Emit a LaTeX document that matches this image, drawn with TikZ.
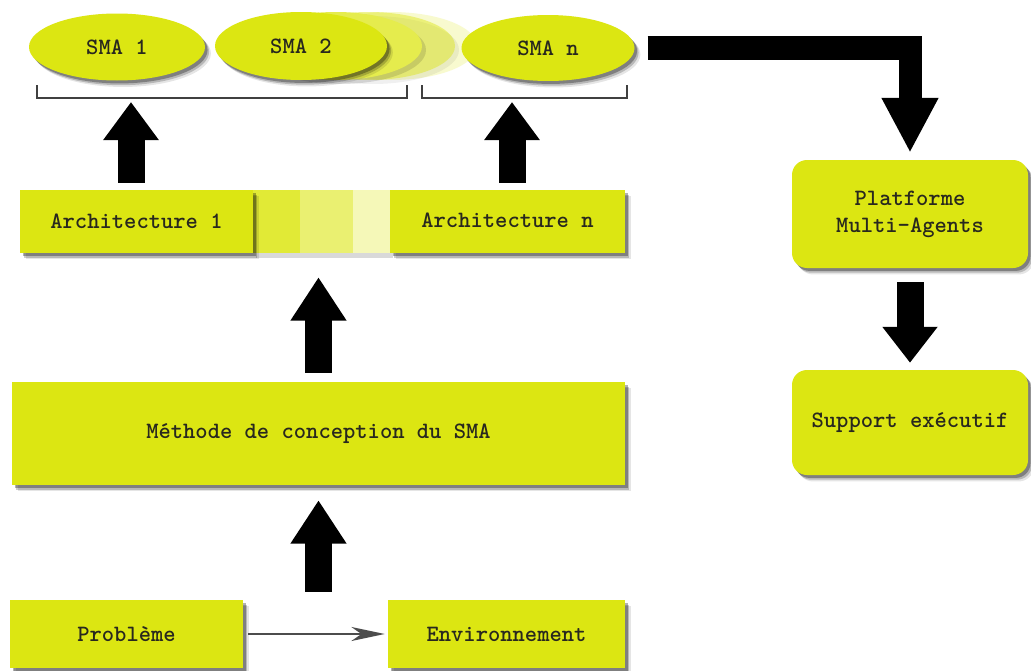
\documentclass[tikz,border=0pt]{standalone}
\usepackage{fontspec}
\usepackage{tikz}
\usetikzlibrary{arrows.meta,shapes.geometric,shadows,positioning,calc}
\usepackage{xcolor}

\definecolor{smayellow}{RGB}{220,230,18}
\definecolor{smatext}{RGB}{40,40,30}
\newdimen\pxu \pxu=0.03cm

\tikzset{
  softshadow/.style={
    general shadow={fill=black,opacity=.10,shadow xshift=5pt,shadow yshift=-5.5pt},
    general shadow={fill=black,opacity=.20,shadow xshift=3.5pt,shadow yshift=-4pt},
    general shadow={fill=black,opacity=.30,shadow xshift=2.2pt,shadow yshift=-2.5pt}},
  smafont/.style={font=\ttfamily\bfseries\fontsize{20}{23}\selectfont, text=smatext},
  smabox/.style={rectangle, fill=smayellow, softshadow, smafont, inner sep=0pt},
  smaround/.style={smabox, rounded corners=0.45cm, align=center},
  smaell/.style={ellipse, fill=smayellow, softshadow, smafont, inner sep=0pt},
  bigarrow/.style={line width=0.81cm, -{Triangle[length=1.3cm,width=1.59cm]}},
  bracket/.style={line width=1.6pt, black!75},
}

\begin{document}
\begin{tikzpicture}[x=0.03cm, y=-0.03cm]
    \useasboundingbox[fill=white] (0,0) rectangle (1031,671);

    % SMA ellipses (with fading copies behind SMA 2)
    \node[smaell, minimum width=176\pxu, minimum height=67\pxu] (sma1) at (117,47) {SMA 1};
    \fill[smayellow, opacity=.2] (391,46) ellipse [x radius=86, y radius=34];
    \fill[black, opacity=.06] (373,50) ellipse [x radius=86, y radius=34];
    \fill[smayellow, opacity=.45] (369,46) ellipse [x radius=86, y radius=34];
    \fill[black, opacity=.12] (340,50) ellipse [x radius=86, y radius=34];
    \fill[smayellow!75!white] (336,46) ellipse [x radius=86, y radius=34];
    \node[smaell, minimum width=172\pxu, minimum height=68\pxu] (sma2) at (301,46) {SMA 2};
    \node[smaell, minimum width=173\pxu, minimum height=66\pxu] (sman) at (548,48) {SMA n};

    % Brackets
    \draw[bracket] (37,85) |- (407,98) -- (407,85);
    \draw[bracket] (422,85) |- (627,98) -- (627,85);
    \coordinate (brL) at (131,98);
    \coordinate (brR) at (512,98);

    % Architectures (with fading strips in between)
    \fill[black, opacity=.15] (256,194) rectangle (393,258);
    \fill[smayellow!85!white] (253,190) rectangle (300,253);
    \fill[smayellow!60!white] (300,190) rectangle (353,253);
    \fill[smayellow!30!white] (353,190) rectangle (390,253);
    \node[smabox, minimum width=233\pxu, minimum height=63\pxu] (arch1) at (136.5,221.5) {Architecture 1};
    \node[smabox, minimum width=235\pxu, minimum height=63\pxu] (archn) at (507.5,221.5) {\raisebox{2pt}{Architecture n}};

    % Method
    \node[smabox, minimum width=613\pxu, minimum height=103\pxu] (methode) at (318.5,433.5) {Méthode de conception du SMA};

    % Problem and environment
    \node[smabox, minimum width=233\pxu, minimum height=68\pxu] (probleme) at (126.5,634) {Problème};
    \node[smabox, minimum width=237\pxu, minimum height=68\pxu] (env) at (506.5,634) {Environnement};

    % Right column
    \node[smaround, minimum width=236\pxu, minimum height=108\pxu] (platforme) at (910,214) {\raisebox{-4pt}{\begin{tabular}{@{}c@{}}Platforme\\Multi-Agents\end{tabular}}};
    \node[smaround, minimum width=236\pxu, minimum height=105\pxu] (support) at (910,422.5) {Support exécutif};

    % Arrows
    \draw[line width=2pt, black!70, -{Stealth[length=1cm,width=0.42cm,inset=0.3cm]}, shorten <=0.15cm, shorten >=0.09cm] (probleme.east) -- (env.west);
    \draw[bigarrow, shorten <=0.24cm, shorten >=0.45cm] (methode.south |- probleme.north) -- (methode.south);
    \draw[bigarrow, shorten <=0.27cm, shorten >=0.72cm] (methode.north) -- (methode.north |- arch1.south);
    \draw[bigarrow, -{Triangle[length=1.14cm,width=1.59cm]}, shorten <=0.21cm, shorten >=0.12cm] (arch1.north -| brL) -- (brL);
    \draw[bigarrow, -{Triangle[length=1.14cm,width=1.59cm]}, shorten <=0.21cm, shorten >=0.12cm] (archn.north -| brR) -- (brR);
    \draw[bigarrow, line width=0.69cm, -{Triangle[length=1.65cm,width=1.59cm]}, shorten <=0.39cm, shorten >=0.21cm] (sman.east) -| (platforme.north);
    \draw[bigarrow, -{Triangle[length=1.08cm,width=1.59cm]}, shorten <=0.42cm, shorten >=0.21cm] (platforme.south) -- (support.north);
\end{tikzpicture}
\end{document}
